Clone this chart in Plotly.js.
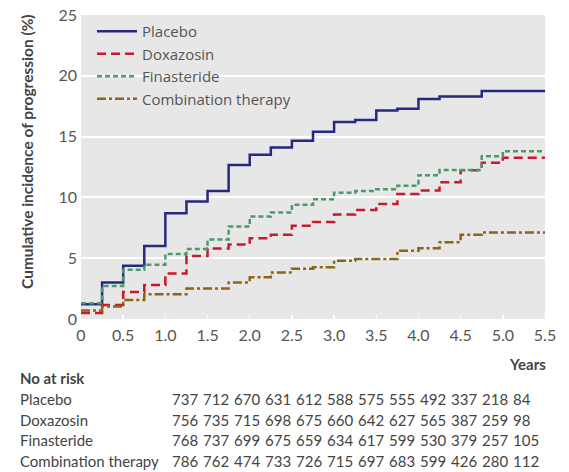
<!DOCTYPE html>
<html>
<head>
<meta charset="utf-8">
<script src="https://cdn.plot.ly/plotly-3.0.1.min.js"></script>
<style>html,body{margin:0;padding:0;background:#fff;}#chart{width:569px;height:472px;}</style>
</head>
<body>
<div id="chart"></div>
<script>
// ---- Data ----
const timeYears = [0,0.25,0.5,0.75,1.0,1.25,1.5,1.75,2.0,2.25,2.5,2.75,3.0,3.25,3.5,3.75,4.0,4.25,4.5,4.75,5.0,5.25,5.5];
const placebo = [1.21,3.0,4.37,6.01,8.7,9.66,10.53,12.67,13.5,14.1,14.65,15.4,16.21,16.37,17.14,17.3,18.1,18.29,18.29,18.76,18.76,18.76,18.76];
const doxazosin = [0.5,1.16,2.23,2.8,3.74,5.19,5.79,6.12,6.64,6.92,7.67,7.98,8.6,8.96,9.45,10.27,10.56,11.25,12.24,12.84,13.27,13.27,13.27];
const finasteride = [1.3,2.72,4.04,4.47,5.35,5.76,6.53,7.6,8.42,8.76,9.4,9.85,10.38,10.52,10.68,10.96,11.83,12.26,12.26,13.39,13.8,13.8,13.8];
const combination = [0.69,1.02,1.57,2.04,2.04,2.5,2.5,3.0,3.44,3.83,4.14,4.25,4.8,4.94,4.94,5.62,5.82,6.32,6.92,7.11,7.11,7.11,7.11];

const seriesNames = ['Placebo','Doxazosin','Finasteride','Combination therapy'];

const xTickVals = [0,0.5,1.0,1.5,2.0,2.5,3.0,3.5,4.0,4.5,5.0,5.5];
const xTickText = ['0','0.5','1.0','1.5','2.0','2.5','3.0','3.5','4.0','4.5','5.0','5.5'];
const yTickVals = [0,5,10,15,20,25];
const yTickText = ['0','5','10','15','20','25'];

const riskTitle = 'No at risk';
const riskPlacebo = [737,712,670,631,612,588,575,555,492,337,218,84];
const riskDoxazosin = [756,735,715,698,675,660,642,627,565,387,259,98];
const riskFinasteride = [768,737,699,675,659,634,617,599,530,379,257,105];
const riskCombination = [786,762,474,733,726,715,697,683,599,426,280,112];

// ---- Styles ----
const FONT = 'Lato, "Open Sans", sans-serif';
const LEGEND_FONT = '"Open Sans", Lato, sans-serif';
const colors = ['#27287f','#c8192d','#4a9a6b','#8c6614'];
const dashes = ['solid','9px,5px','5px,3px','9px,3px,3px,3px'];
const seriesValues = [placebo, doxazosin, finasteride, combination];

const traces = seriesValues.map((vals, i) => ({
  type: 'scatter', mode: 'lines',
  x: timeYears, y: vals, name: seriesNames[i],
  line: {shape: 'hv', color: colors[i], width: 2.5, dash: dashes[i]},
  hoverinfo: 'skip'
}));

// plot-area geometry (px)
const L = 81, R = 24, T = 15, B = 153, W = 569, H = 472;
const pw = W - L - R, ph = H - T - B;
const px = v => (v - L) / pw;
const py = v => (H - B - v) / ph;

const annotations = [];
annotations.push({xref:'paper', yref:'paper', x: px(27), y: py(152), text: '<b>Cumulative incidence of progression (%)</b>',
  textangle: -90, showarrow: false, xanchor: 'center', yanchor: 'middle',
  font: {family: FONT, size: 15.5, color: '#444'}});
annotations.push({xref:'paper', yref:'paper', x: px(548), y: py(364), text: '<b>Years</b>',
  showarrow: false, xanchor: 'right', yanchor: 'middle', font: {family: FONT, size: 15, color: '#444'}});
annotations.push({xref:'paper', yref:'paper', x: px(18), y: py(378), text: '<b>' + riskTitle + '</b>',
  showarrow: false, xanchor: 'left', yanchor: 'middle', font: {family: FONT, size: 15, color: '#444'}});

const riskRows = [riskPlacebo, riskDoxazosin, riskFinasteride, riskCombination];
const rowY = [399, 419.5, 440, 460.5];
const numX0 = 170, numStep = 31;
riskRows.forEach((row, r) => {
  annotations.push({xref:'paper', yref:'paper', x: px(18), y: py(rowY[r]), text: seriesNames[r],
    showarrow: false, xanchor: 'left', yanchor: 'middle', font: {family: FONT, size: 15, color: '#444'}});
  row.forEach((n, i) => {
    annotations.push({xref:'paper', yref:'paper', x: px(numX0 + i * numStep), y: py(rowY[r]), text: String(n),
      showarrow: false, xanchor: 'left', yanchor: 'middle', font: {family: FONT, size: 15, color: '#444'}});
  });
});

const layout = {
  width: W, height: H,
  margin: {l: L, r: R, t: T, b: B, pad: 0},
  paper_bgcolor: '#ffffff', plot_bgcolor: '#e7e7e7',
  font: {family: FONT, color: '#555'},
  showlegend: true,
  legend: {x: px(92), y: py(15), xanchor: 'left', yanchor: 'top', bgcolor: 'rgba(0,0,0,0)',
    font: {family: LEGEND_FONT, size: 15, color: '#555'}, itemwidth: 40, tracegroupgap: 0},
  xaxis: {range: [0, 5.5], tickvals: xTickVals, ticktext: xTickText, ticks: 'inside', ticklen: 4,
    tickcolor: '#ffffff', tickwidth: 1.5, showgrid: false, zeroline: false, showline: false,
    tickfont: {family: FONT, size: 16, color: '#555'}, ticklabelstandoff: 5, fixedrange: true},
  yaxis: {range: [0, 25], tickvals: yTickVals, ticktext: yTickText, ticks: '', showgrid: true,
    gridcolor: '#ffffff', gridwidth: 2, zeroline: false, showline: false,
    tickfont: {family: FONT, size: 16, color: '#555'}, ticklabelstandoff: 3, fixedrange: true},
  annotations: annotations
};

Plotly.newPlot('chart', traces, layout, {displayModeBar: false, staticPlot: true});
</script>
</body>
</html>
